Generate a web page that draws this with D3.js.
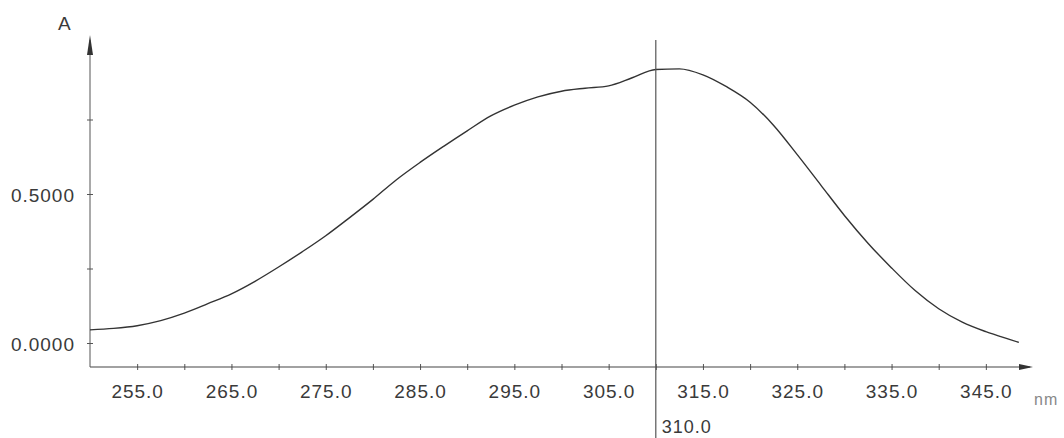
<!DOCTYPE html>
<html>
<head>
<meta charset="utf-8">
<script src="https://cdn.jsdelivr.net/npm/d3@7"></script>
<style>
  body { margin: 0; background: #fff; }
  svg text { font-family: "Liberation Sans", Arial, sans-serif; fill: #3a3a3a; letter-spacing: 1px; }
</style>
</head>
<body>
<svg id="chart" width="1064" height="438"></svg>
<script>
// spectrum readings, wavelength (nm) and absorbance (A)
const wavelengths = [250, 252.5, 255, 257.5, 260, 262.5, 265, 267.5, 270, 272.5, 275, 277.5, 280, 282.5,
  285, 287.5, 290, 292.5, 295, 297.5, 300, 302.5, 305, 307.5, 310, 312.5, 315, 317.5, 320, 322.5,
  325, 327.5, 330, 332.5, 335, 337.5, 340, 342.5, 345, 347.5, 348.5];
const absorbance = [0.044, 0.049, 0.058, 0.075, 0.100, 0.132, 0.165, 0.207, 0.255, 0.306, 0.360, 0.420, 0.482, 0.548,
  0.606, 0.660, 0.712, 0.762, 0.798, 0.826, 0.845, 0.855, 0.863, 0.890, 0.918, 0.920, 0.900, 0.860, 0.808, 0.730,
  0.632, 0.530, 0.428, 0.335, 0.252, 0.176, 0.115, 0.070, 0.038, 0.012, 0.002];
const xTicks = [255, 260, 265, 270, 275, 280, 285, 290, 295, 300, 305, 310, 315, 320, 325, 330, 335, 340, 345];
const xLabels = [255, 265, 275, 285, 295, 305, 315, 325, 335, 345];
const yTicks = [0, 0.25, 0.5, 0.75];
const yLabels = [0, 0.5];
const cursorAt = 310;

const svg = d3.select("#chart");

const xScale = d3.scaleLinear().domain([250, 350]).range([90, 1033]);
const yScale = d3.scaleLinear().domain([0, 1]).range([343, 45]);
const axisY = 367;

//X axis: ticks cross the line, labels every 10 nm
const xAxis = svg.append("g")
  .attr("transform", `translate(0,${axisY})`)
  .call(d3.axisBottom(xScale)
    .tickValues(xTicks)
    .tickSize(3)
    .tickFormat(d => xLabels.includes(d) ? d3.format(".1f")(d) : ""));
xAxis.select(".domain").remove();
xAxis.selectAll(".tick line").attr("y1", -3).attr("stroke", "#555");
xAxis.selectAll(".tick text")
  .attr("y", 31).attr("dy", 0)
  .style("font-size", "19px");

//Y axis
const yAxis = svg.append("g")
  .attr("transform", "translate(90,0)")
  .call(d3.axisLeft(yScale)
    .tickValues(yTicks)
    .tickSize(3)
    .tickFormat(d => yLabels.includes(d) ? d3.format(".4f")(d) : ""));
yAxis.select(".domain").remove();
yAxis.selectAll(".tick line").attr("x1", 3).attr("stroke", "#555");
yAxis.selectAll(".tick text")
  .attr("x", -15).attr("dy", "0.4em")
  .style("font-size", "19px");

//Axis lines with arrow heads
svg.append("line")
  .attr("x1", 90).attr("y1", axisY).attr("x2", 1030).attr("y2", axisY)
  .attr("stroke", "#444").attr("stroke-width", 1.2);
svg.append("path")
  .attr("d", `M1033,${axisY} L1019,${axisY - 3} L1019,${axisY + 3} Z`)
  .attr("fill", "#333");
svg.append("line")
  .attr("x1", 90).attr("y1", axisY).attr("x2", 90).attr("y2", 40)
  .attr("stroke", "#555").attr("stroke-width", 1);
svg.append("path")
  .attr("d", "M90,35 L87,55 L93,55 Z")
  .attr("fill", "#333");

svg.append("text")
  .attr("x", 58).attr("y", 30)
  .style("font-size", "19px")
  .text("A");
svg.append("text")
  .attr("x", 1034).attr("y", 405)
  .style("font-size", "16px")
  .style("fill", "#888")
  .text("nm");

//Spectrum line
const line = d3.line()
  .x((d, i) => xScale(wavelengths[i]))
  .y(d => yScale(d))
  .curve(d3.curveMonotoneX);
svg.append("path")
  .datum(absorbance)
  .attr("d", line)
  .attr("fill", "none")
  .attr("stroke", "#333")
  .attr("stroke-width", 1.4);

//Cursor
svg.append("line")
  .attr("x1", xScale(cursorAt)).attr("x2", xScale(cursorAt))
  .attr("y1", 40).attr("y2", 438)
  .attr("stroke", "#555").attr("stroke-width", 1.2);
svg.append("text")
  .attr("x", xScale(cursorAt) + 6).attr("y", 433)
  .style("font-size", "18px")
  .text(d3.format(".1f")(cursorAt));
</script>
</body>
</html>
